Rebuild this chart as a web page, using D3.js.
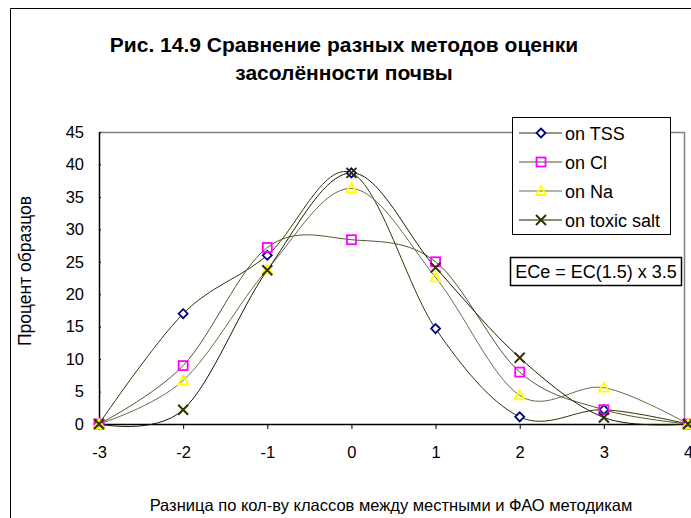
<!DOCTYPE html>
<html>
<head lang="ru">
  <meta charset="UTF-8">
  <title>Рис. 14.9</title>
</head>
<style>
  body { margin: 0; background: #fff; }
  svg { font-family: "Liberation Sans", Arial, sans-serif; }
  .tick text { font-size: 16.5px; fill: #000; }
</style>
<body>

<svg id="chart" width="691" height="518"></svg>

<script src="https://cdn.jsdelivr.net/npm/d3@7/dist/d3.min.js"></script>
<script>
  var classes = [ -3, -2, -1, 0, 1, 2, 3, 4 ];
  var tss   = [ 0, 17.0, 26.0, 38.7, 14.7, 1.1, 2.2, 0 ];
  var cl    = [ 0, 9.0, 27.2, 28.4, 25.0, 8.0, 2.2, 0 ];
  var na    = [ 0, 6.7, 23.8, 36.3, 22.6, 4.4, 5.6, 0 ];
  var toxic = [ 0, 2.2, 23.7, 38.7, 24.1, 10.2, 1.0, 0 ];
  var seriesNames = [ 'on TSS', 'on Cl', 'on Na', 'on toxic salt' ];
  var yTicks = [ 0, 5, 10, 15, 20, 25, 30, 35, 40, 45 ];

  var series = [
    { name: seriesNames[0], values: tss,   line: '#333300', marker: 'diamond',  color: '#000080' },
    { name: seriesNames[1], values: cl,    line: '#55552e', marker: 'square',   color: '#ff00ff' },
    { name: seriesNames[2], values: na,    line: '#6b6b4a', marker: 'triangle', color: '#ffff00' },
    { name: seriesNames[3], values: toxic, line: '#1a1a00', marker: 'cross',    color: '#333300' }
  ];

  var svg = d3.select('#chart');

  // outer chart frame (right side is cut off in the picture)
  svg.append('path')
    .attr('d', 'M700,8.5 H10.5 V530')
    .attr('fill', 'none').attr('stroke', '#000').attr('stroke-width', 1);

  svg.append('text').attr('x', 344).attr('y', 52).attr('text-anchor', 'middle')
    .style('font-size', '21px').style('font-weight', 'bold')
    .text('Рис. 14.9 Сравнение разных методов оценки');
  svg.append('text').attr('x', 344).attr('y', 80).attr('text-anchor', 'middle')
    .style('font-size', '21px').style('font-weight', 'bold')
    .text('засолённости почвы');

  var x = d3.scaleLinear().domain([-3, 4]).range([99, 688]);
  var y = d3.scaleLinear().domain([0, 45]).range([424, 132]);

  // plot area frame
  svg.append('path')
    .attr('d', 'M99,132.5 H684.5 V424')
    .attr('fill', 'none').attr('stroke', '#808080').attr('stroke-width', 1.5);

  svg.append('g')
    .attr('transform', 'translate(99,0)')
    .call(d3.axisLeft(y).tickValues(yTicks).tickSizeInner(5).tickSizeOuter(0).tickPadding(10))
    .call(function (g) {
      g.select('.domain').attr('stroke', '#000').attr('stroke-width', 1.5);
      g.selectAll('.tick line').attr('stroke', '#000').attr('x2', 2);
    });

  svg.append('g')
    .attr('transform', 'translate(0,424)')
    .call(d3.axisBottom(x).tickValues(classes).tickSize(5).tickPadding(17).tickSizeOuter(0)
      .tickFormat(function (d) { return String(d); }))
    .call(function (g) {
      g.select('.domain').attr('stroke', '#000').attr('stroke-width', 1.5);
      g.selectAll('.tick line').attr('stroke', '#000');
      g.selectAll('.tick').filter(function (d) { return d === -3; }).select('line').remove();
    });

  svg.append('text').attr('transform', 'translate(31,271) rotate(-90)')
    .attr('text-anchor', 'middle').style('font-size', '17.5px')
    .text('Процент образцов');

  svg.append('text').attr('x', 391).attr('y', 511).attr('text-anchor', 'middle')
    .style('font-size', '16.5px')
    .text('Разница по кол-ву классов между местными и ФАО методикам');

  var line = d3.line()
    .x(function (d, i) { return x(classes[i]); })
    .y(function (d) { return y(d); })
    .curve(d3.curveCardinal.tension(0));

  svg.append('g').selectAll('path')
    .data(series)
    .enter()
      .append('path')
      .attr('d', function (s) { return line(s.values); })
      .attr('fill', 'none')
      .attr('stroke', function (s) { return s.line; })
      .attr('stroke-width', 1);

  function drawMarker(g, type, color) {
    if (type === 'diamond') {
      g.append('path').attr('d', 'M0,-4.5 L4.5,0 L0,4.5 L-4.5,0 Z')
        .attr('fill', '#fff').attr('stroke', color).attr('stroke-width', 1.8);
    } else if (type === 'square') {
      g.append('rect').attr('x', -4.5).attr('y', -4.5).attr('width', 9).attr('height', 9)
        .attr('fill', 'none').attr('stroke', color).attr('stroke-width', 1.8);
    } else if (type === 'triangle') {
      g.append('path').attr('d', 'M0,-5 L5,4 L-5,4 Z')
        .attr('fill', 'none').attr('stroke', color).attr('stroke-width', 1.8);
    } else {
      g.append('path').attr('d', 'M-5,-5 L5,5 M-5,5 L5,-5')
        .attr('stroke', color).attr('stroke-width', 2);
    }
  }

  series.forEach(function (s) {
    svg.append('g').selectAll('g')
      .data(s.values)
      .enter()
        .append('g')
        .attr('transform', function (d, i) { return 'translate(' + x(classes[i]) + ',' + y(d) + ')'; })
        .each(function () { drawMarker(d3.select(this), s.marker, s.color); });
  });

  // legend
  var legend = svg.append('g');
  legend.append('rect').attr('x', 512.5).attr('y', 117.5).attr('width', 158).attr('height', 117)
    .attr('fill', '#fff').attr('stroke', '#000').attr('stroke-width', 1);
  var item = legend.selectAll('g.item')
    .data(series)
    .enter()
      .append('g')
      .attr('class', 'item')
      .attr('transform', function (s, i) { return 'translate(0,' + (133 + i * 29) + ')'; });
  item.append('line').attr('x1', 519).attr('x2', 562).attr('y1', 0).attr('y2', 0)
    .attr('stroke', function (s) { return s.line; }).attr('stroke-width', 1);
  item.append('g').attr('transform', 'translate(541,0)')
    .each(function (s) { drawMarker(d3.select(this), s.marker, s.color); });
  item.append('text').attr('x', 565).attr('y', 6.5).style('font-size', '18px')
    .text(function (s) { return s.name; });

  // formula box
  svg.append('rect').attr('x', 510.5).attr('y', 257.5).attr('width', 171).attr('height', 28)
    .attr('fill', '#fff').attr('stroke', '#000').attr('stroke-width', 1.5);
  svg.append('text').attr('x', 596).attr('y', 278).attr('text-anchor', 'middle')
    .style('font-size', '18px').text('ECe = EC(1.5) x 3.5');
</script>
</body>
</html>
